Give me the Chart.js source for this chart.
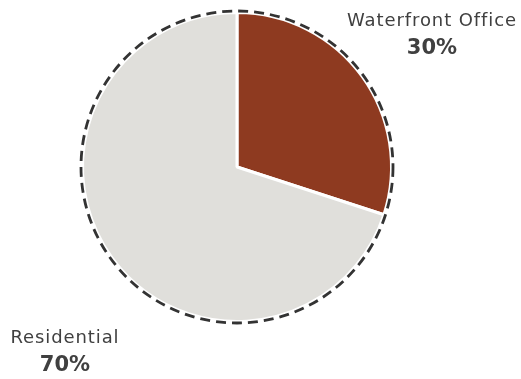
<!DOCTYPE html>
<html>
<head>
<meta charset="utf-8">
<script src="https://cdn.jsdelivr.net/npm/chart.js@4"></script>
<style>
  html, body { margin: 0; padding: 0; background: #fff; }
  #wrap { width: 521px; height: 379px; position: relative; }
</style>
</head>
<body>
<div id="wrap"><canvas id="pieChart"></canvas></div>
<script>
// chart data
const categories = ['Waterfront Office', 'Residential'];
const shares = [30, 70];
const sliceColors = ['#8E3A20', '#E0DFDB'];

// where each label block sits (centre x, middle of name line)
const labelSpots = [
    { x: 432, y: 21 },
    { x: 65, y: 338 }
];

// dashed outline around the whole pie
const dashedRing = {
    id: 'dashedRing',
    afterDatasetsDraw(chart) {
        const arc = chart.getDatasetMeta(0).data[0];
        if (!arc) return;
        const ctx = chart.ctx;
        ctx.save();
        ctx.beginPath();
        ctx.arc(arc.x, arc.y, arc.outerRadius + 1.5, 0, Math.PI * 2);
        ctx.setLineDash([10, 6]);
        ctx.lineWidth = 2.8;
        ctx.strokeStyle = '#333333';
        ctx.stroke();
        ctx.restore();
    }
};

// category name + percentage labels
const sliceLabels = {
    id: 'sliceLabels',
    afterDraw(chart) {
        const ctx = chart.ctx;
        const total = shares.reduce((a, b) => a + b, 0);
        ctx.save();
        ctx.textAlign = 'center';
        ctx.textBaseline = 'middle';
        ctx.fillStyle = '#404040';
        categories.forEach(function(name, i) {
            const spot = labelSpots[i];
            ctx.font = '18px "DejaVu Sans", sans-serif';
            ctx.letterSpacing = '0.9px';
            ctx.fillText(name, spot.x, spot.y);
            ctx.font = 'bold 21px "DejaVu Sans", sans-serif';
            ctx.letterSpacing = '0px';
            ctx.fillText(Math.round(shares[i] / total * 100) + '%', spot.x, spot.y + 28);
        });
        ctx.restore();
    }
};

new Chart(document.getElementById('pieChart').getContext('2d'), {
    type: 'pie',
    data: {
        labels: categories,
        datasets: [{
            data: shares,
            backgroundColor: sliceColors,
            borderColor: '#ffffff',
            borderWidth: 3
        }]
    },
    options: {
        responsive: true,
        maintainAspectRatio: false,
        animation: false,
        layout: {
            padding: { left: 81, right: 128, top: 11, bottom: 56 }
        },
        plugins: {
            legend: { display: false },
            tooltip: { enabled: false }
        }
    },
    plugins: [dashedRing, sliceLabels]
});
</script>
</body>
</html>
